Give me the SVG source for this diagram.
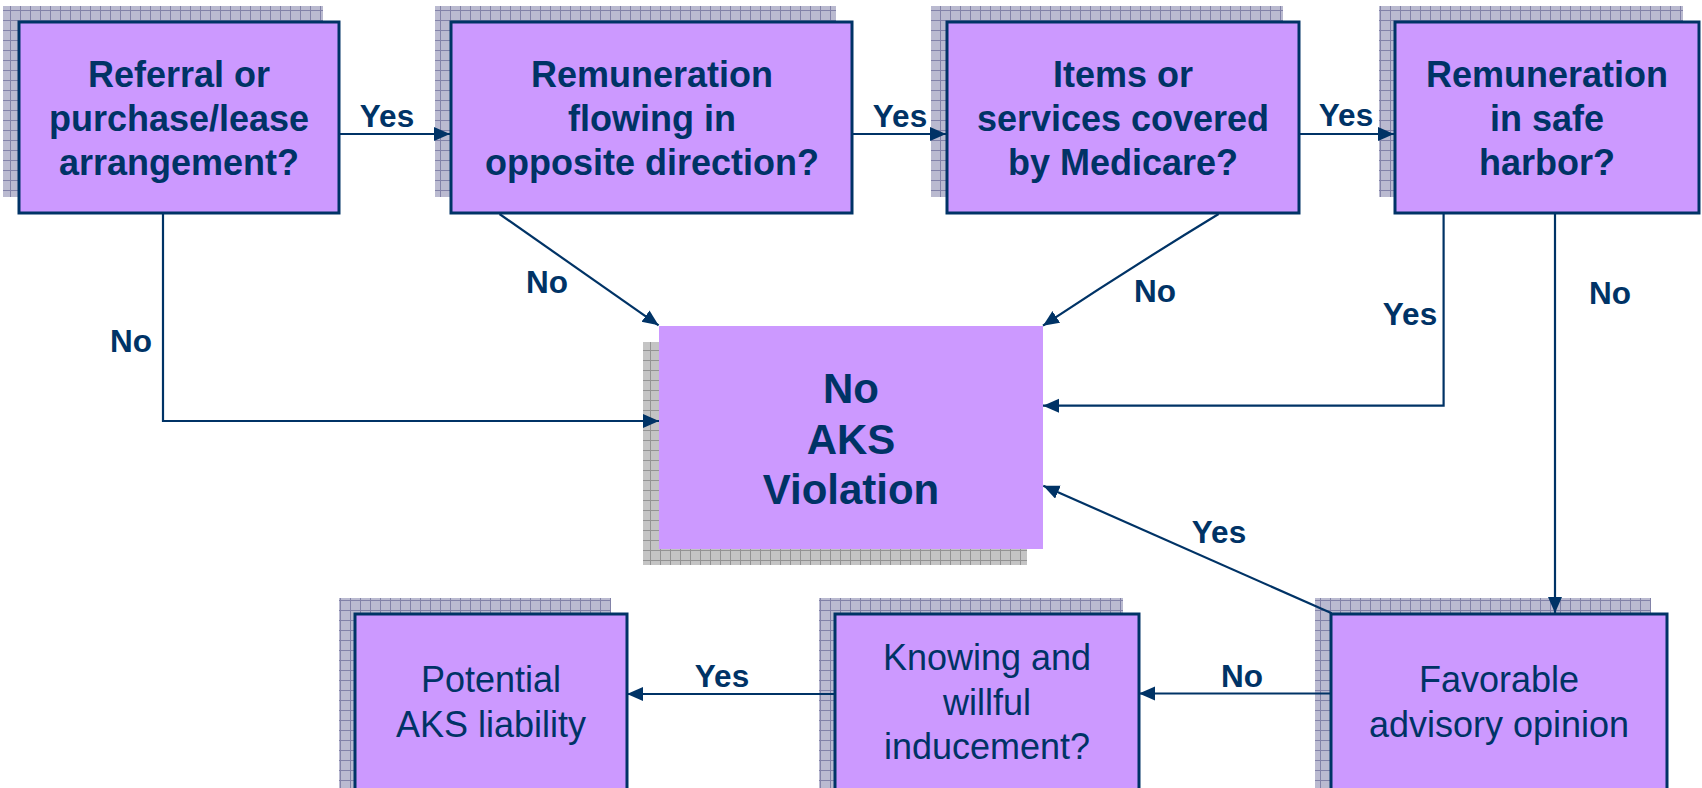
<svg xmlns="http://www.w3.org/2000/svg" width="1702" height="788" viewBox="0 0 1702 788">
<defs>
<pattern id="gridB" patternUnits="userSpaceOnUse" width="10" height="10">
<rect width="10" height="10" fill="#babad0"/>
<path d="M0 0.5H10M0.5 0V10" stroke="#8282a8" stroke-width="1"/>
</pattern>
<pattern id="gridG" patternUnits="userSpaceOnUse" width="10" height="10">
<rect width="10" height="10" fill="#c4c4c4"/>
<path d="M0 0.5H10M0.5 0V10" stroke="#939393" stroke-width="1"/>
</pattern>
<marker id="ah" markerUnits="userSpaceOnUse" markerWidth="20" markerHeight="16" refX="16" refY="7" orient="auto">
<path d="M0 0L16 7L0 14Z" fill="#003366"/>
</marker>
</defs>
<style>
.box{fill:#cc99ff;stroke:#003366;stroke-width:3}
.sb{fill:url(#gridB)}
.sg{fill:url(#gridG)}
.t{font-family:"Liberation Sans",Arial,sans-serif;fill:#003366;text-anchor:middle}
.b{font-weight:bold;font-size:36px}
.r{font-size:36px}
.lbl{font-family:"Liberation Sans",Arial,sans-serif;fill:#003366;font-weight:bold;font-size:31.5px;text-anchor:middle}
.c{fill:none;stroke:#003366;stroke-width:2.2;marker-end:url(#ah)}
</style>
<rect width="1702" height="788" fill="#ffffff"/>

<g id="n-referral">
<rect class="sb" x="3" y="6" width="320" height="191"/>
<rect class="box" x="19" y="22" width="320" height="191"/>
<text class="t b" x="179" y="87">Referral or</text>
<text class="t b" x="179" y="131">purchase/lease</text>
<text class="t b" x="179" y="175">arrangement?</text>
</g>

<g id="n-remuneration">
<rect class="sb" x="435" y="6" width="401" height="191"/>
<rect class="box" x="451" y="22" width="401" height="191"/>
<text class="t b" x="652" y="87">Remuneration</text>
<text class="t b" x="652" y="131">flowing in</text>
<text class="t b" x="652" y="175">opposite direction?</text>
</g>

<g id="n-items">
<rect class="sb" x="931" y="6" width="352" height="191"/>
<rect class="box" x="947" y="22" width="352" height="191"/>
<text class="t b" x="1123" y="87">Items or</text>
<text class="t b" x="1123" y="131">services covered</text>
<text class="t b" x="1123" y="175">by Medicare?</text>
</g>

<g id="n-safeharbor">
<rect class="sb" x="1379" y="6" width="304" height="191"/>
<rect class="box" x="1395" y="22" width="304" height="191"/>
<text class="t b" x="1547" y="87">Remuneration</text>
<text class="t b" x="1547" y="131">in safe</text>
<text class="t b" x="1547" y="175">harbor?</text>
</g>

<g id="n-noaks">
<rect class="sg" x="643" y="342" width="384" height="223"/>
<rect x="659" y="326" width="384" height="223" fill="#cc99ff"/>
<text class="t" x="851" y="403" font-weight="bold" font-size="42">No</text>
<text class="t" x="851" y="454" font-weight="bold" font-size="42">AKS</text>
<text class="t" x="851" y="504" font-weight="bold" font-size="42">Violation</text>
</g>

<g id="n-potential">
<rect class="sb" x="339" y="598" width="272" height="200"/>
<rect class="box" x="355" y="614" width="272" height="200"/>
<text class="t r" x="491" y="692">Potential</text>
<text class="t r" x="491" y="737">AKS liability</text>
</g>

<g id="n-knowing">
<rect class="sb" x="819" y="598" width="304" height="200"/>
<rect class="box" x="835" y="614" width="304" height="200"/>
<text class="t r" x="987" y="670">Knowing and</text>
<text class="t r" x="987" y="715">willful</text>
<text class="t r" x="987" y="759">inducement?</text>
</g>

<g id="n-favorable">
<rect class="sb" x="1315" y="598" width="336" height="200"/>
<rect class="box" x="1331" y="614" width="336" height="200"/>
<text class="t r" x="1499" y="692">Favorable</text>
<text class="t r" x="1499" y="737">advisory opinion</text>
</g>

<g id="connectors">
<path class="c" d="M339 134H450"/>
<path class="c" d="M852 134H946"/>
<path class="c" d="M1299 134H1394"/>
<path class="c" d="M163 214V421H659"/>
<path class="c" d="M499.5 214L658.6 325.3"/>
<path class="c" d="M1218.6 214Q1130 268 1043 325.7"/>
<path class="c" d="M1443.6 214V405.7H1043"/>
<path class="c" d="M1555 214V613"/>
<path class="c" d="M1331.7 613.3L1043.3 485.7"/>
<path class="c" d="M1330 693.5H1139"/>
<path class="c" d="M835 694H627"/>
</g>

<g id="labels">
<text class="lbl" x="387" y="127">Yes</text>
<text class="lbl" x="900" y="127">Yes</text>
<text class="lbl" x="1346" y="126">Yes</text>
<text class="lbl" x="131" y="352">No</text>
<text class="lbl" x="547" y="293">No</text>
<text class="lbl" x="1155" y="302">No</text>
<text class="lbl" x="1410" y="325">Yes</text>
<text class="lbl" x="1610" y="304">No</text>
<text class="lbl" x="1219" y="543">Yes</text>
<text class="lbl" x="1242" y="687">No</text>
<text class="lbl" x="722" y="687">Yes</text>
</g>
</svg>
